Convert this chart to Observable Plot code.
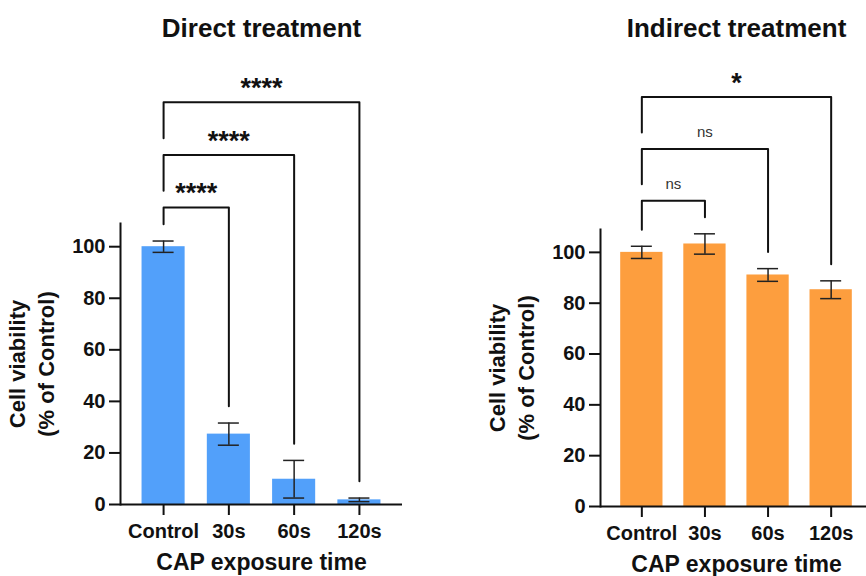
<!DOCTYPE html>
<html><head><meta charset="utf-8">
<script src="https://cdn.jsdelivr.net/npm/d3@7"></script>
<script src="https://cdn.jsdelivr.net/npm/@observablehq/plot@0.6"></script>
<style>
html,body{margin:0;padding:0;background:#fff;}
#wrap{position:relative;width:866px;height:576px;overflow:hidden;font-family:"Liberation Sans",Arial,sans-serif;}
#wrap svg{position:absolute;top:0;font-family:"Liberation Sans",Arial,sans-serif;}
</style></head><body><div id="wrap"></div>
<script>
// ---- data ----
const categories = ["Control", "30s", "60s", "120s"];
const directMean = [100, 27.3, 9.8, 1.8];
const directSD = [2.2, 4.3, 7.3, 0.7];
const indirectMean = [100, 103.3, 91.1, 85.3];
const indirectSD = [2.4, 4.0, 2.5, 3.5];
const directComparisons = [["Control", "30s", "****"], ["Control", "60s", "****"], ["Control", "120s", "****"]];
const indirectComparisons = [["Control", "30s", "ns"], ["Control", "60s", "ns"], ["Control", "120s", "*"]];
const yTicks = [0, 20, 40, 60, 80, 100];
const titles = ["Direct treatment", "Indirect treatment"];
const xLabel = "CAP exposure time";
const yLabel = "Cell viability\n(% of Control)";

const wrap = document.getElementById("wrap");

function panel(cfg) {
  const {title, means, sds, comps, color, left, width, ml, mr, mt, mb, pin, pout} = cfg;
  const height = 576;
  const rows = categories.map((c, i) => ({cat: c, v: means[i], lo: means[i] - sds[i], hi: means[i] + sds[i]}));
  const errTop = Object.fromEntries(rows.map(r => [r.cat, r.hi]));
  const xs = Plot.scale({x: {type: "band", domain: categories, range: [ml, width - mr], paddingInner: pin, paddingOuter: pout, round: false}});
  const bw = xs.bandwidth;
  const capInset = (bw - 21) / 2;
  const base = Math.max(errTop[comps[0][0]], errTop[comps[0][1]]) + 13;
  const step = 20.4;
  const brackets = comps.map(([a, b, label], k) => ({
    a, b, label, id: k,
    level: base + k * step,
    leftEnd: k === 0 ? errTop[a] + 6.5 : base + (k - 1) * step + 6.5,
    rightEnd: errTop[b] + 6.5
  }));
  const pts = brackets.flatMap(br => [
    {id: br.id, x: br.a, y: br.leftEnd},
    {id: br.id, x: br.a, y: br.level},
    {id: br.id, x: br.b, y: br.level},
    {id: br.id, x: br.b, y: br.rightEnd}
  ]);
  const labelMarks = brackets.map(br => {
    const isNs = br.label === "ns";
    return Plot.text([br], {
      x: "a", y: "level", text: "label",
      dx: (xs.apply(br.b) - xs.apply(br.a)) / 2,
      dy: isNs ? -17 : -14,
      fontSize: isNs ? 15 : 27,
      fontWeight: isNs ? "normal" : "bold",
      fill: isNs ? "#333" : "#111",
      letterSpacing: isNs ? "0px" : "2px"
    });
  });
  const svg = Plot.plot({
    width, height,
    marginLeft: ml, marginRight: mr, marginTop: mt, marginBottom: mb,
    style: {fontFamily: "Liberation Sans, Arial, sans-serif", color: "#111", background: "transparent"},
    x: {domain: categories, paddingInner: pin, paddingOuter: pout, round: false, label: null},
    y: {domain: [0, 109], label: null},
    marks: [
      Plot.barY(rows, {x: "cat", y: "v", fill: color}),
      Plot.ruleX(rows, {x: "cat", y1: "lo", y2: "hi", stroke: "#222", strokeWidth: 1.5}),
      Plot.tickY(rows, {x: "cat", y: "hi", stroke: "#222", strokeWidth: 1.5, insetLeft: capInset, insetRight: capInset}),
      Plot.tickY(rows, {x: "cat", y: "lo", stroke: "#222", strokeWidth: 1.5, insetLeft: capInset, insetRight: capInset}),
      Plot.ruleY([0], {stroke: "#111", strokeWidth: 2}),
      Plot.frame({anchor: "left", stroke: "#111", strokeWidth: 2}),
      Plot.axisY({ticks: yTicks, tickSize: 11, tickPadding: 4, fontSize: 20, fontWeight: "bold", strokeWidth: 2, stroke: "#111", label: null}),
      Plot.axisX({tickSize: 11, tickPadding: 8, fontSize: 20, fontWeight: "bold", strokeWidth: 2, stroke: "#111", label: null}),
      Plot.line(pts, {x: "x", y: "y", z: "id", stroke: "#111", strokeWidth: 2}),
      ...labelMarks,
      Plot.text([title], {text: d => d, frameAnchor: "top", lineAnchor: "middle", dy: 28 - mt, fontSize: 26, fontWeight: "bold", fill: "#111"}),
      Plot.text([xLabel], {text: d => d, frameAnchor: "bottom", lineAnchor: "middle", dy: 58, fontSize: 23, fontWeight: "bold", fill: "#111"}),
      Plot.text([yLabel], {text: d => d, frameAnchor: "left", textAnchor: "middle", lineAnchor: "middle", rotate: -90, dx: -90, fontSize: 22, lineHeight: 1.3, fontWeight: "bold", fill: "#111"})
    ]
  });
  svg.style.left = left + "px";
  wrap.appendChild(svg);
}

panel({title: titles[0], means: directMean, sds: directSD, comps: directComparisons, color: "#52a0fa",
  left: 0, width: 440, ml: 120, mr: 38, mt: 223, mb: 72, pin: 0.34, pout: 0.33});
panel({title: titles[1], means: indirectMean, sds: indirectSD, comps: indirectComparisons, color: "#fd9e3e",
  left: 480, width: 420, ml: 120, mr: 28, mt: 229, mb: 70, pin: 0.33, pout: 0.32});
</script>
</body></html>
